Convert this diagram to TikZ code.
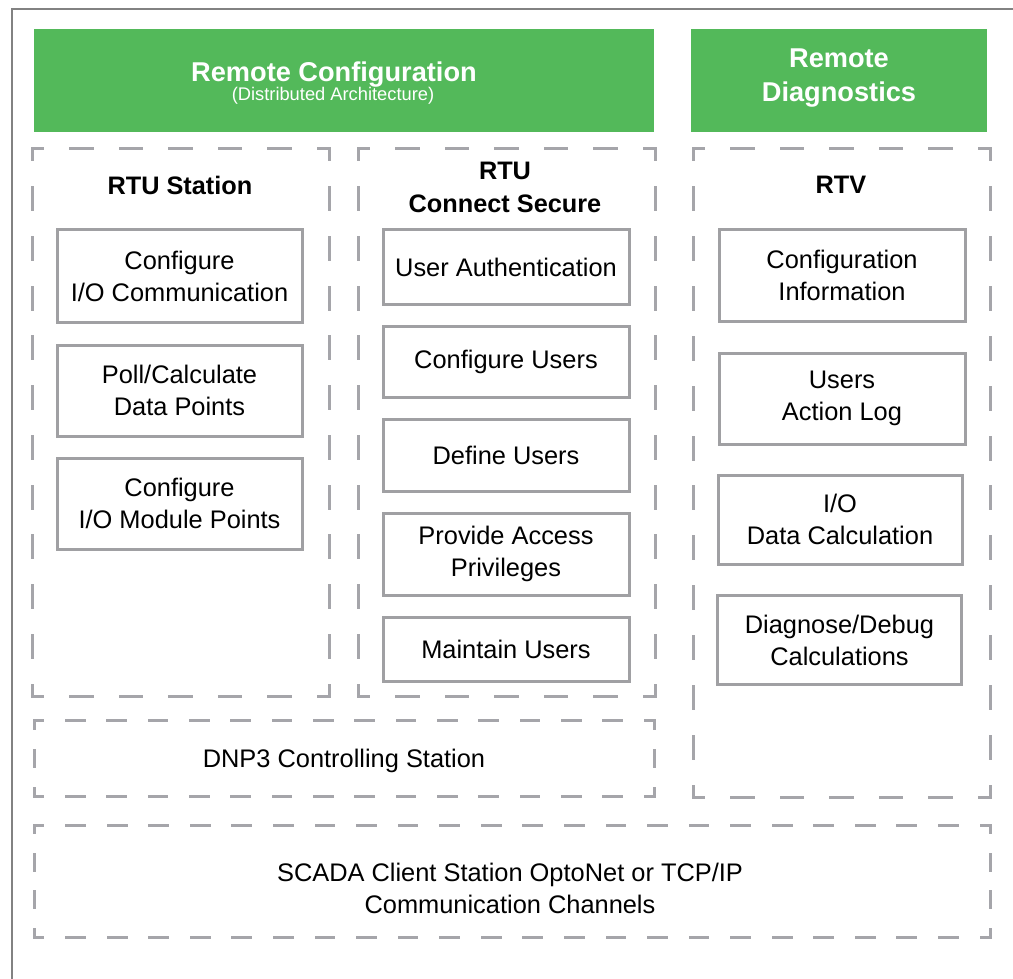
\documentclass[tikz,border=0pt]{standalone}
\usepackage{fontspec}
\setmainfont{Liberation Sans}
\definecolor{optogreen}{RGB}{83,185,90}
\definecolor{dashgray}{RGB}{165,165,170}
\definecolor{boxgray}{RGB}{160,160,163}
\definecolor{framegray}{RGB}{130,130,130}
\newcommand\txtbody{\fontsize{25.4}{32}\selectfont}
\newcommand\txthead{\fontsize{25.3}{33}\selectfont\bfseries}
\newcommand\txtgreen{\fontsize{27.2}{34}\selectfont\bfseries}
\newcommand\txtsub{\fontsize{18.3}{22}\selectfont}
\tikzset{
  dbox/.style={draw=dashgray, line width=3pt, line cap=rect},
  dside/.style 2 args={dbox,
    /utils/exec={\pgfmathsetmacro\dsn{max(1,round(#1/#2))}%
      \pgfmathsetmacro\dsd{#1/\dsn/2}%
      \pgfmathsetmacro\dson{\dsd-3}%
      \pgfmathsetmacro\dsoff{\dsd+3}%
      \pgfmathsetmacro\dsph{\dsd/2-1.5}},
    dash pattern=on \dson pt off \dsoff pt, dash phase=\dsph pt},
  region/.style={draw=none, inner sep=0pt, outer sep=0pt},
  sbox/.style={draw=boxgray, line width=3pt, fill=white, inner sep=0pt,
    align=center, font=\txtbody, text=black},
  gbox/.style={fill=optogreen, draw=none, inner sep=0pt},
  gtext/.style={text=white, inner sep=0pt, anchor=base},
  head/.style={font=\txthead, align=center, inner sep=0pt},
  plain/.style={font=\txtbody, align=center, inner sep=0pt},
}
\newcommand\dashrect[4]{%
  \draw[dside={#2}{#4}] (#1.north west) -- (#1.north east);
  \draw[dside={#3}{#4}] (#1.north east) -- (#1.south east);
  \draw[dside={#2}{#4}] (#1.south east) -- (#1.south west);
  \draw[dside={#3}{#4}] (#1.south west) -- (#1.north west);
}
\begin{document}
\begin{tikzpicture}[x=1pt, y=-1pt]
\useasboundingbox (0,0) rectangle (1013,979);
\clip (0,0) rectangle (1013,979);
\fill[white] (0,0) rectangle (1013,979);
% outer frame
\draw[framegray, line width=2pt] (12,9) rectangle (1040,1010);

% green headers
\node[gbox, minimum width=620pt, minimum height=103pt] (g1) at (344,80.5) {};
\node[gbox, minimum width=296pt, minimum height=103pt] (g2) at (839,80.5) {};
\node[gtext, font=\txtgreen] (g1t) at (334,81.5) {Remote Configuration};
\node[gtext, font=\txtsub] (g1s) at (333,101) {(Distributed Architecture)};
\node[gtext, font=\txtgreen] (g2a) at (839,68) {Remote};
\node[gtext, font=\txtgreen] (g2b) at (839,101.6) {Diagnostics};

% dashed regions
\node[region, minimum width=297pt, minimum height=547pt] (st) at (180.5,422.5) {};
\node[region, minimum width=297pt, minimum height=547pt] (cs) at (506.5,422.5) {};
\node[region, minimum width=297pt, minimum height=648pt] (rtv) at (841.5,473) {};
\node[region, minimum width=620pt, minimum height=76pt] (dnp) at (344,758) {};
\node[region, minimum width=956pt, minimum height=112pt] (scada) at (512,881) {};
\dashrect{st}{297}{547}{50}
\dashrect{cs}{297}{547}{50}
\dashrect{rtv}{297}{648}{50}
\dashrect{dnp}{620}{76}{42}
\dashrect{scada}{956}{112}{42}

% headings
\node[head] (sth) at (180,185) {RTU Station};
\node[head] (csh) at (505,187) {RTU\\Connect Secure};
\node[head] (rtvh) at (841,185) {RTV};

% column 1
\node[sbox, minimum width=245pt, minimum height=92pt] (a1) at (179.5,276) {Configure\\I/O Communication};
\node[sbox, minimum width=245pt, minimum height=91pt] (a2) at (179.5,390.5) {Poll/Calculate\\Data Points};
\node[sbox, minimum width=245pt, minimum height=91pt] (a3) at (179.5,503.5) {Configure\\I/O Module Points};

% column 2
\node[sbox, minimum width=246pt, minimum height=74pt] (b1) at (506,267) {User Authentication};
\node[sbox, minimum width=246pt, minimum height=71pt] (b2) at (506,361.5) {Configure Users};
\node[sbox, minimum width=246pt, minimum height=72pt] (b3) at (506,455) {Define Users};
\node[sbox, minimum width=246pt, minimum height=82pt] (b4) at (506,554) {Provide Access\\Privileges};
\node[sbox, minimum width=246pt, minimum height=64pt] (b5) at (506,649) {Maintain Users};

% column 3
\node[sbox, minimum width=246pt, minimum height=91pt] (c1) at (842,275.5) {Configuration\\Information};
\node[sbox, minimum width=246pt, minimum height=91pt] (c2) at (842,398.5) {Users\\Action Log};
\node[sbox, minimum width=244pt, minimum height=89pt] (c3) at (840,519.5) {I/O\\Data Calculation};
\node[sbox, minimum width=244pt, minimum height=89pt] (c4) at (839.5,640) {Diagnose/Debug\\Calculations};

% bottom texts
\node[plain] (dnpt) at (344,761) {DNP3 Controlling Station};
\node[plain] (scadat) at (510,888) {SCADA Client Station OptoNet or TCP/IP\\Communication Channels};
\end{tikzpicture}
\end{document}
